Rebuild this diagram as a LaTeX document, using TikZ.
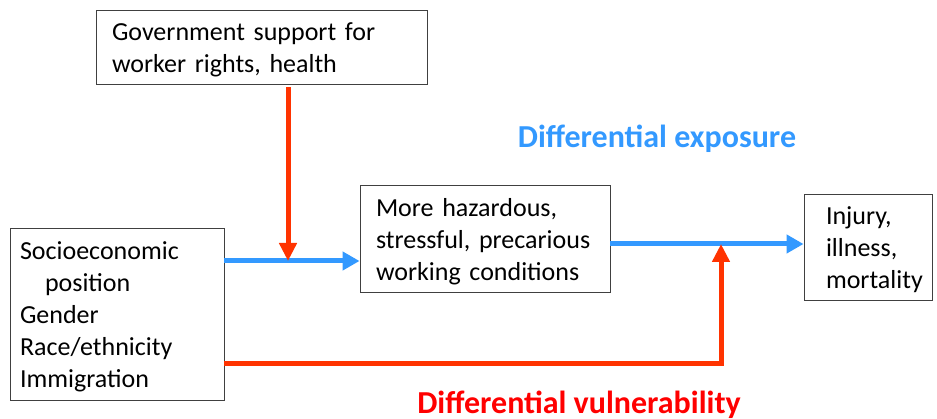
\documentclass[tikz,border=0pt]{standalone}
\usepackage{fontspec}
\setmainfont{Carlito}
\usetikzlibrary{arrows.meta}
\definecolor{exposureblue}{HTML}{3399FF}
\definecolor{vulnred}{HTML}{FF3300}
\definecolor{labelred}{HTML}{FF0000}
\definecolor{boxline}{HTML}{404040}
\begin{document}
\begin{tikzpicture}[x=1pt,y=-1pt,
  box/.style={draw=boxline, line width=0.9pt, rectangle, align=left,
    font=\fontsize{26}{32}\selectfont, inner ysep=0pt,
    execute at begin node={\rule{0pt}{24pt}}},
  exparrow/.style={draw=exposureblue, line width=5pt,
    -{Triangle[length=17pt,width=18pt]}},
  vularrow/.style={draw=vulnred, line width=5pt,
    -{Triangle[length=18pt,width=17pt]}},
  pathlabel/.style={font=\fontsize{32}{36}\selectfont\bfseries}]
  \useasboundingbox (0,0) rectangle (937,419);

  % boxes
  \node[box, minimum width=331pt, minimum height=74pt, inner xsep=16pt,
        text width=299pt] (gov) at (261.5,47)
        {Government support for\\worker rights, health};
  \node[box, minimum width=214pt, minimum height=172pt, inner xsep=10pt,
        text width=194pt] (soc) at (117,314)
        {Socioeconomic\\\hspace*{25pt}position\\Gender\\Race/ethnicity\\Immigration};
  \node[box, minimum width=250pt, minimum height=107pt, inner xsep=16pt,
        text width=218pt] (mid) at (485,238.5)
        {More hazardous,\\stressful, precarious\\working conditions};
  \node[box, minimum width=128pt, minimum height=106pt, inner xsep=22pt,
        text width=84pt] (out) at (868,247)
        {Injury,\\illness,\\mortality};

  % junction points where the moderating arrows meet the exposure arrows
  \coordinate (j1) at (288,261);
  \coordinate (j2) at (721,244);

  % differential exposure path
  \draw[exparrow] ([yshift=53pt]soc.east) -- ([yshift=-22.5pt]mid.west);
  \draw[exparrow] ([yshift=-5.5pt]mid.east) -- ([yshift=3pt]out.west);

  % modifiers
  \draw[vularrow] ([xshift=26.5pt,yshift=-3pt]gov.south) -- (j1);
  \draw[vularrow] ([yshift=-50pt]soc.east) -| (j2);

  % labels
  \node[pathlabel, text=exposureblue] (explabel) at (657,139) {Differential exposure};
  \node[pathlabel, text=labelred] (vullabel) at (579,405) {Differential vulnerability};
\end{tikzpicture}
\end{document}
